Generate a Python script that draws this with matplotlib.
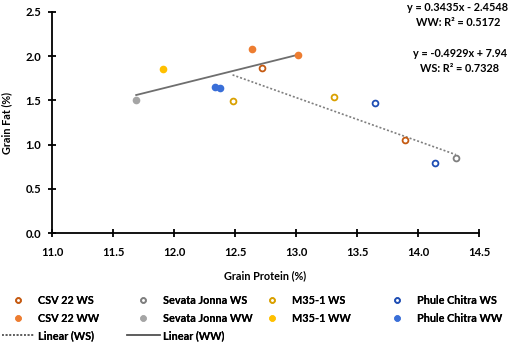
import numpy as np
import matplotlib
matplotlib.use("Agg")
import matplotlib.pyplot as plt
from matplotlib.lines import Line2D

plt.rcParams["font.family"] = ["Lato", "DejaVu Sans"]

# --- data ---
csv22_ws_x = [12.72, 13.89]
csv22_ws_y = [1.87, 1.05]
csv22_ww_x = [12.64, 13.02]
csv22_ww_y = [2.085, 2.01]
sevata_ws_x = [14.31]
sevata_ws_y = [0.845]
sevata_ww_x = [11.69]
sevata_ww_y = [1.50]
m35_ws_x = [12.48, 13.31]
m35_ws_y = [1.49, 1.54]
m35_ww_x = [11.91]
m35_ww_y = [1.85]
phule_ws_x = [13.65, 14.14]
phule_ws_y = [1.47, 0.79]
phule_ww_x = [12.34, 12.38]
phule_ww_y = [1.648, 1.64]

ws_fit = (-0.4929, 7.94)
ww_fit = (0.3435, -2.4548)
ws_label = "y = -0.4929x + 7.94\nWS: R\u00b2 = 0.7328"
ww_label = "y = 0.3435x - 2.4548\nWW: R\u00b2 = 0.5172"

x_ticks = [11.0, 11.5, 12.0, 12.5, 13.0, 13.5, 14.0, 14.5]
y_ticks = [0.0, 0.5, 1.0, 1.5, 2.0, 2.5]

fs = 7.8
fig = plt.figure(figsize=(5.10, 3.43), dpi=100)
ax = fig.add_axes([52 / 510, 1 - 233 / 343, (479 - 52) / 510, (233 - 12) / 343])

ms = 4.2
series = [
    ("CSV 22 WS", csv22_ws_x, csv22_ws_y, "#C55A11", False),
    ("CSV 22 WW", csv22_ww_x, csv22_ww_y, "#ED7D31", True),
    ("Sevata Jonna WS", sevata_ws_x, sevata_ws_y, "#7F7F7F", False),
    ("Sevata Jonna WW", sevata_ww_x, sevata_ww_y, "#A5A5A5", True),
    ("M35-1 WS", m35_ws_x, m35_ws_y, "#D9A000", False),
    ("M35-1 WW", m35_ww_x, m35_ww_y, "#FFC000", True),
    ("Phule Chitra WS", phule_ws_x, phule_ws_y, "#1F4EB4", False),
    ("Phule Chitra WW", phule_ww_x, phule_ww_y, "#3A6FD8", True),
]
handles = {}
for name, xs, ys, col, filled in series:
    ax.plot(xs, ys, "o", ms=ms, mec=col, mfc=col if filled else "white",
            mew=1.3, zorder=3)
    handles[name] = Line2D([], [], ls="none", marker="o", ms=3.4, mec=col,
                           mfc=col if filled else "white", mew=1.3)

# trend lines, over the x range of each group
ws_x = np.array(csv22_ws_x + sevata_ws_x + m35_ws_x + phule_ws_x)
ww_x = np.array(csv22_ww_x + sevata_ww_x + m35_ww_x + phule_ww_x)
xr = np.array([ws_x.min(), ws_x.max()])
ax.plot(xr, ws_fit[0] * xr + ws_fit[1], ls=(0, (1.2, 1.2)), color="#7F7F7F", lw=1.2, zorder=2)
xr = np.array([ww_x.min(), ww_x.max()])
ax.plot(xr, ww_fit[0] * xr + ww_fit[1], ls="-", color="#6E6E6E", lw=1.3, zorder=2)
handles["Linear (WS)"] = Line2D([], [], ls=(0, (1.2, 1.2)), color="#595959", lw=1.1)
handles["Linear (WW)"] = Line2D([], [], ls="-", color="#595959", lw=1.1)

ax.set_xlim(11.0, 14.5)
ax.set_ylim(0.0, 2.5)
ax.set_xticks(x_ticks)
ax.set_yticks(y_ticks)
ax.set_xticklabels([f"{v:.1f}" for v in x_ticks])
ax.set_yticklabels([f"{v:.1f}" for v in y_ticks])
for s in ["top", "right"]:
    ax.spines[s].set_visible(False)
for s in ["left", "bottom"]:
    ax.spines[s].set_linewidth(1.3)
    ax.spines[s].set_color("black")
ax.tick_params(direction="inout", length=6, width=1.3, labelsize=fs + 0.3)
ax.tick_params(axis="x", pad=7)
ax.tick_params(axis="y", pad=5)
for lab in ax.get_xticklabels() + ax.get_yticklabels():
    lab.set_fontweight("bold")
ax.set_xlabel("Grain Protein (%)", fontsize=fs, fontweight="bold", labelpad=9)
ax.set_ylabel("Grain Fat (%)", fontsize=fs, fontweight="bold", labelpad=9)

fig.text(458 / 510, 1 - 15 / 343, ww_label, ha="center", va="center",
         fontsize=fs, fontweight="bold", linespacing=1.45)
fig.text(460 / 510, 1 - 61 / 343, ws_label, ha="center", va="center",
         fontsize=fs, fontweight="bold", linespacing=1.45)

# legend: four columns placed like the reference
cols = [
    (["CSV 22 WS", "CSV 22 WW", "Linear (WS)"], 2),
    (["Sevata Jonna WS", "Sevata Jonna WW", "Linear (WW)"], 127),
    (["M35-1 WS", "M35-1 WW"], 256),
    (["Phule Chitra WS", "Phule Chitra WW"], 381),
]
for names, x0 in cols:
    leg = fig.legend([handles[n] for n in names], names, loc="upper left",
                     bbox_to_anchor=(x0 / 510, 1 - 295 / 343), frameon=False,
                     prop={"weight": "bold", "size": fs},
                     handlelength=3.0, handletextpad=0.3, borderpad=0,
                     borderaxespad=0, labelspacing=0.6)
    fig.add_artist(leg)

fig.savefig("out.png", dpi=100)
